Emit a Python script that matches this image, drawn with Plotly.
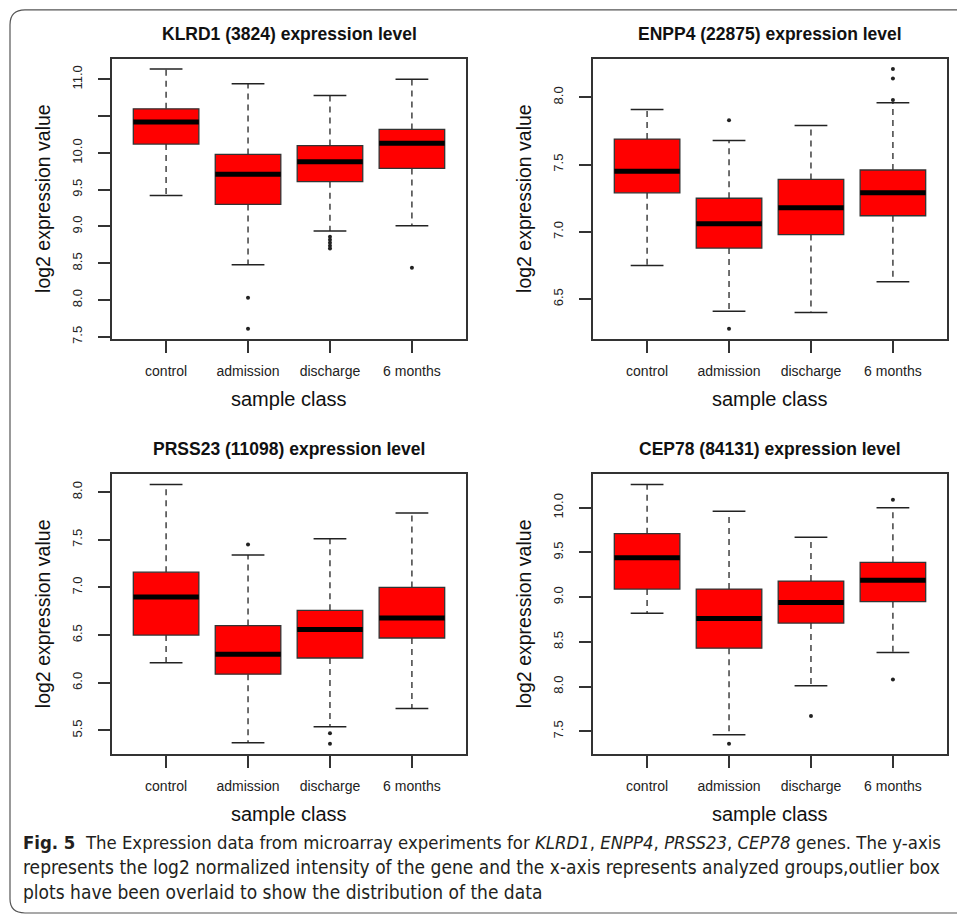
import plotly.graph_objects as go

W, H = 957, 921

categories = ["control", "admission", "discharge", "6 months"]
gene_titles = ["KLRD1 (3824) expression level", "ENPP4 (22875) expression level",
               "PRSS23 (11098) expression level", "CEP78 (84131) expression level"]

# KLRD1
klrd1_lower = [9.42, 8.48, 8.94, 9.01]
klrd1_q1 = [10.12, 9.30, 9.61, 9.79]
klrd1_median = [10.42, 9.71, 9.88, 10.13]
klrd1_q3 = [10.60, 9.98, 10.10, 10.32]
klrd1_upper = [11.14, 10.94, 10.78, 11.00]
klrd1_outliers = [[], [8.03, 7.61], [8.86, 8.82, 8.78, 8.74, 8.70], [8.44]]

# ENPP4
enpp4_lower = [6.75, 6.41, 6.40, 6.63]
enpp4_q1 = [7.29, 6.88, 6.98, 7.12]
enpp4_median = [7.45, 7.06, 7.18, 7.29]
enpp4_q3 = [7.69, 7.25, 7.39, 7.46]
enpp4_upper = [7.91, 7.68, 7.79, 7.96]
enpp4_outliers = [[], [7.83, 6.28], [], [8.21, 8.14, 7.98]]

# PRSS23
prss23_lower = [6.21, 5.37, 5.54, 5.73]
prss23_q1 = [6.50, 6.09, 6.26, 6.47]
prss23_median = [6.90, 6.30, 6.56, 6.68]
prss23_q3 = [7.16, 6.60, 6.76, 7.00]
prss23_upper = [8.08, 7.34, 7.51, 7.78]
prss23_outliers = [[], [7.45], [5.47, 5.36], []]

# CEP78
cep78_lower = [8.82, 7.46, 8.01, 8.38]
cep78_q1 = [9.09, 8.43, 8.71, 8.95]
cep78_median = [9.44, 8.76, 8.94, 9.19]
cep78_q3 = [9.71, 9.09, 9.18, 9.39]
cep78_upper = [10.26, 9.96, 9.67, 10.00]
cep78_outliers = [[], [7.36], [7.67], [10.09, 8.08]]

y_ticks = [
    [7.5, 8.0, 8.5, 9.0, 9.5, 10.0, 10.5, 11.0],
    [6.5, 7.0, 7.5, 8.0],
    [5.5, 6.0, 6.5, 7.0, 7.5, 8.0],
    [7.5, 8.0, 8.5, 9.0, 9.5, 10.0],
]
y_tick_text = [
    ["7.5", "8.0", "8.5", "9.0", "9.5", "10.0", "", "11.0"],
    ["6.5", "7.0", "7.5", "8.0"],
    ["5.5", "6.0", "6.5", "7.0", "7.5", "8.0"],
    ["7.5", "8.0", "8.5", "9.0", "9.5", "10.0"],
]

panels = [
    (klrd1_lower, klrd1_q1, klrd1_median, klrd1_q3, klrd1_upper, klrd1_outliers),
    (enpp4_lower, enpp4_q1, enpp4_median, enpp4_q3, enpp4_upper, enpp4_outliers),
    (prss23_lower, prss23_q1, prss23_median, prss23_q3, prss23_upper, prss23_outliers),
    (cep78_lower, cep78_q1, cep78_median, cep78_q3, cep78_upper, cep78_outliers),
]

# pixel layout of the four plot frames (left, right, top, bottom)
frames = [
    (112, 466, 59, 341),
    (593, 947, 59, 341),
    (112, 466, 476.7, 758.3),
    (593, 947, 476.7, 758.3),
]

FONT = "Liberation Sans, Arial, Helvetica, sans-serif"
EDGE = "#333333"

fig = go.Figure()
shapes = []
annotations = []
layout_axes = {}

for k, (lo, q1, med, q3, up, outl) in enumerate(panels):
    idx = k + 1
    xa = "x" if idx == 1 else f"x{idx}"
    ya = "y" if idx == 1 else f"y{idx}"
    xs = [i + 1 for i in range(len(categories))]

    # boxes
    for i, x in enumerate(xs):
        shapes.append(dict(type="rect", xref=xa, yref=ya, x0=x - 0.4, x1=x + 0.4,
                           y0=q1[i], y1=q3[i], fillcolor="#FF0000",
                           line=dict(color=EDGE, width=1.3), layer="above"))
        shapes.append(dict(type="line", xref=xa, yref=ya, x0=x - 0.4, x1=x + 0.4,
                           y0=med[i], y1=med[i], line=dict(color="black", width=5),
                           layer="above"))
    # whiskers (dashed)
    wx, wy = [], []
    cx, cy = [], []
    for i, x in enumerate(xs):
        wx += [x, x, None, x, x, None]
        wy += [q3[i], up[i], None, q1[i], lo[i], None]
        cx += [x - 0.2, x + 0.2, None, x - 0.2, x + 0.2, None]
        cy += [up[i], up[i], None, lo[i], lo[i], None]
    fig.add_trace(go.Scatter(x=wx, y=wy, mode="lines", xaxis=xa, yaxis=ya,
                             line=dict(color="#222222", width=1.3, dash="6px,5px"),
                             showlegend=False, hoverinfo="skip"))
    fig.add_trace(go.Scatter(x=cx, y=cy, mode="lines", xaxis=xa, yaxis=ya,
                             line=dict(color="#222222", width=1.5),
                             showlegend=False, hoverinfo="skip"))
    ox, oy = [], []
    for i, x in enumerate(xs):
        for v in outl[i]:
            ox.append(x)
            oy.append(v)
    fig.add_trace(go.Scatter(x=ox, y=oy, mode="markers", xaxis=xa, yaxis=ya,
                             marker=dict(color="#222222", size=4),
                             showlegend=False, hoverinfo="skip"))

    allv = lo + up + [v for o in outl for v in o]
    vmin, vmax = min(allv), max(allv)
    pad = (vmax - vmin) * 0.04
    L, R, T, B = frames[k]
    n = len(categories)
    xpad = n * 0.04
    layout_axes["xaxis" if idx == 1 else f"xaxis{idx}"] = dict(
        domain=[L / W, R / W], anchor=ya, range=[0.5 - xpad, n + 0.5 + xpad],
        tickvals=xs, ticktext=categories, ticks="outside", ticklen=12,
        tickwidth=1.5, tickcolor=EDGE, showline=True, mirror=True, linecolor=EDGE,
        linewidth=1.5, showgrid=False, zeroline=False,
        tickfont=dict(family=FONT, size=14, color="#222"), ticklabelstandoff=6)
    layout_axes["yaxis" if idx == 1 else f"yaxis{idx}"] = dict(
        domain=[1 - B / H, 1 - T / H], anchor=xa, range=[vmin - pad, vmax + pad],
        tickvals=y_ticks[k], ticktext=y_tick_text[k], ticks="outside", ticklen=12,
        tickwidth=1.5, tickcolor=EDGE, showline=True, mirror=True, linecolor=EDGE,
        linewidth=1.5, showgrid=False, zeroline=False, tickangle=-90,
        tickfont=dict(family=FONT, size=13, color="#222"), ticklabelstandoff=11)

    cxp = (L + R) / 2
    annotations.append(dict(text=f"<b>{gene_titles[k]}</b>", x=cxp / W, y=1 - (T - 25) / H,
                            xref="paper", yref="paper", showarrow=False,
                            xanchor="center", yanchor="middle",
                            font=dict(family=FONT, size=17.5, color="#111")))
    annotations.append(dict(text="sample class", x=cxp / W, y=1 - (B + 60) / H,
                            xref="paper", yref="paper", showarrow=False,
                            xanchor="center", yanchor="middle",
                            font=dict(family=FONT, size=20, color="#111")))
    annotations.append(dict(text="log2 expression value", x=(L - 69) / W, y=1 - ((T + B) / 2) / H,
                            xref="paper", yref="paper", showarrow=False, textangle=-90,
                            xanchor="center", yanchor="middle",
                            font=dict(family=FONT, size=19.5, color="#111")))

CAP_FONT = "Liberation Sans Narrow, DejaVu Sans Condensed, Arial Narrow, sans-serif"
caption_lines = [
    "<b>Fig. 5</b>  The Expression data from microarray experiments for <i>KLRD1</i>, <i>ENPP4</i>, <i>PRSS23</i>, <i>CEP78</i> genes. The y-axis",
    "represents the log2 normalized intensity of the gene and the x-axis represents analyzed groups,outlier box",
    "plots have been overlaid to show the distribution of the data",
]
caption_sizes = [18.4, 19, 19]
caption_y = [847, 872, 897]
for j, line in enumerate(caption_lines):
    annotations.append(dict(text=line, x=22 / W, y=1 - caption_y[j] / H,
                            xref="paper", yref="paper", showarrow=False,
                            xanchor="left", yanchor="middle", borderpad=0,
                            font=dict(family=CAP_FONT, size=caption_sizes[j], color="#231f20")))

# rounded outer border
shapes.append(dict(type="path", xref="paper", yref="paper",
                   path=f"M {975/W} {1-10/H} L {25/W} {1-10/H} Q {10/W} {1-10/H} {10/W} {1-25/H} "
                        f"L {10/W} {1-904/H} Q {10/W} {1-918/H} {25/W} {1-918/H} L {975/W} {1-918/H}",
                   line=dict(color="#555555", width=1.2)))

fig.update_layout(width=W, height=H, margin=dict(l=0, r=0, t=0, b=0),
                  paper_bgcolor="white", plot_bgcolor="white",
                  shapes=shapes, annotations=annotations, showlegend=False,
                  **layout_axes)

fig.write_html("out.html", config={"displayModeBar": False},
               post_script="document.body.style.margin='0';")
